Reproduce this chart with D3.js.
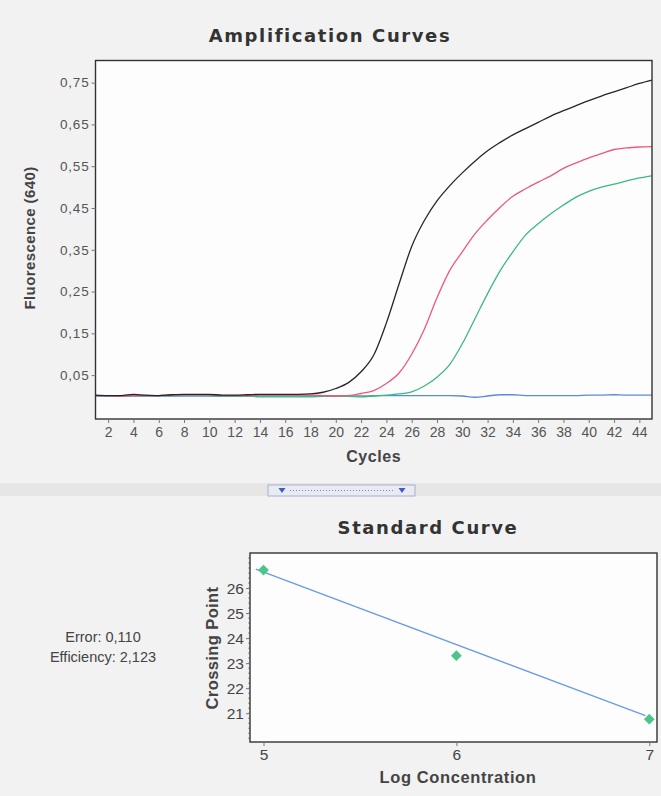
<!DOCTYPE html>
<html><head><meta charset="utf-8">
<script src="https://cdn.jsdelivr.net/npm/d3@7"></script>
<style>
html,body{margin:0;padding:0;background:#f2f2f2;}
svg{display:block;}
</style></head><body>
<svg id="chart" width="661" height="796"></svg>
<script>
// ---------- data ----------
const cycles = [1,2,3,4,5,6,7,8,9,10,11,12,13,14,15,16,17,18,19,20,21,22,23,24,25,26,27,28,29,30,31,32,33,34,35,36,37,38,39,40,41,42,43,44,45];
const blackSeries = [
  0.002,0.001,0.001,0.004,0.002, 0.001,0.003,0.004,0.004,0.004,
  0.002,0.002,0.003,0.004,0.004, 0.004,0.004,0.005,0.009,0.018,
  0.032,0.058,0.098,0.175,0.268, 0.358,0.420,0.467,0.503,0.534,
  0.562,0.587,0.607,0.625,0.640, 0.655,0.670,0.683,0.695,0.707,
  0.718,0.728,0.738,0.748,0.756];
const redSeries = [
  0.001,0.001,0.000,0.001,0.001, 0.001,0.003,0.003,0.003,0.003,
  0.001,0.001,0.001,0.002,0.002, 0.002,0.002,0.002,0.001,0.000,
  0.001,0.006,0.013,0.030,0.055, 0.100,0.160,0.235,0.300,0.345,
  0.388,0.422,0.452,0.478,0.496, 0.512,0.527,0.545,0.558,0.570,
  0.580,0.590,0.594,0.596,0.597];
const greenSeries = [
  0.001,0.001,0.001,0.001,0.001, 0.001,0.001,0.002,0.002,0.001,
  0.000,0.000,0.000,-0.002,-0.002, -0.002,-0.002,-0.002,-0.001,-0.001,
  -0.001,-0.002,0.000,0.002,0.005, 0.010,0.024,0.045,0.075,0.125,
  0.185,0.245,0.300,0.345,0.385, 0.412,0.436,0.457,0.476,0.490,
  0.500,0.507,0.515,0.522,0.527];
const blueSeries = [
  0.000,0.000,0.000,0.000,0.000, 0.000,0.000,0.000,0.000,0.000,
  0.000,0.000,0.000,0.000,0.000, 0.000,0.000,0.000,0.000,0.000,
  0.000,0.000,0.001,0.001,0.001, 0.001,0.001,0.001,0.001,0.000,
  -0.003,0.000,0.003,0.003,0.001, 0.001,0.001,0.001,0.001,0.002,
  0.002,0.003,0.002,0.002,0.002];
const ampYTicks = [0.05,0.15,0.25,0.35,0.45,0.55,0.65,0.75];
const ampXTicks = [2,4,6,8,10,12,14,16,18,20,22,24,26,28,30,32,34,36,38,40,42,44];

const logConc = [5,6,7];
const crossingPoint = [26.72,23.30,20.76];
const fitX = [4.96,6.98];
const fitY = [26.76,20.90];
const stdYTicks = [21,22,23,24,25,26];
const stdXTicks = [5,6,7];
const statLines = ["Error: 0,110","Efficiency: 2,123"];

// ---------- drawing ----------
const svg = d3.select("#chart");
const comma = d => String(d).replace(".", ",");
const tickFont = "'Liberation Sans', Arial, sans-serif";
const titleFont = "'DejaVu Sans', Verdana, sans-serif";

// separator band & widget
svg.append("rect").attr("x",0).attr("y",483).attr("width",661).attr("height",13).attr("fill","#e6e6e6");
const wg = svg.append("g");
wg.append("rect").attr("x",268).attr("y",485).attr("width",147).attr("height",11)
  .attr("fill","#e9ebf3").attr("stroke","#a9afc7");
[282,402].forEach(cx=>{
  wg.append("path").attr("d",`M${cx-3.5},${488} L${cx+3.5},${488} L${cx},${493} Z`).attr("fill","#3c5cc8");
});
wg.append("line").attr("x1",290).attr("x2",395).attr("y1",490.5).attr("y2",490.5)
  .attr("stroke","#7d88b8").attr("stroke-dasharray","1,2");

// ===== Amplification curves =====
const A = {l:95.5, r:652, t:60.5, b:419};
const x = d3.scaleLinear().domain([1,45]).range([A.l, A.r]);
const y = d3.scaleLinear().domain([-0.055,0.803]).range([A.b, A.t]);

svg.append("rect").attr("x",A.l).attr("y",A.t).attr("width",A.r-A.l).attr("height",A.b-A.t).attr("fill","#fdfdfd");

const line = d3.line().x((d,i)=>x(cycles[i])).y(d=>y(d)).curve(d3.curveMonotoneX);
const series = [
  {v:blueSeries, c:"#5b8ad6"},
  {v:greenSeries, c:"#3cb97e"},
  {v:redSeries, c:"#ea5a78"},
  {v:blackSeries, c:"#262626"}
];
svg.append("g").selectAll("path").data(series).join("path")
  .attr("d",d=>line(d.v)).attr("fill","none").attr("stroke",d=>d.c).attr("stroke-width",1.3);

svg.append("rect").attr("x",A.l).attr("y",A.t).attr("width",A.r-A.l).attr("height",A.b-A.t)
  .attr("fill","none").attr("stroke","#333").attr("stroke-width",1.4);

const yAx = svg.append("g").attr("transform",`translate(${A.l},0)`)
  .call(d3.axisLeft(y).tickValues(ampYTicks).tickFormat(d=>comma(d3.format(".2f")(d))).tickSize(4).tickPadding(2));
yAx.select(".domain").remove();
yAx.selectAll("line").attr("stroke","#777");
yAx.selectAll("text").attr("font-family",tickFont).attr("font-size",13.5).attr("fill","#555").attr("letter-spacing",0.8);

const xAx = svg.append("g").attr("transform",`translate(0,${A.b})`)
  .call(d3.axisBottom(x).tickValues(ampXTicks).tickSize(4).tickPadding(4));
xAx.select(".domain").remove();
xAx.selectAll("line").attr("stroke","#777");
xAx.selectAll("text").attr("font-family",tickFont).attr("font-size",14).attr("fill","#555");

svg.append("text").attr("x",330).attr("y",42).attr("text-anchor","middle")
  .attr("font-family",titleFont).attr("font-weight","bold").attr("font-size",18)
  .attr("letter-spacing",1.6).attr("fill","#333").text("Amplification Curves");
svg.append("text").attr("x",(A.l+A.r)/2).attr("y",462).attr("text-anchor","middle")
  .attr("font-family",tickFont).attr("font-weight","bold").attr("font-size",16).attr("letter-spacing",0.6)
  .attr("fill","#444").text("Cycles");
svg.append("text").attr("transform",`translate(35,${238}) rotate(-90)`).attr("text-anchor","middle")
  .attr("font-family",tickFont).attr("font-weight","bold").attr("font-size",15).attr("letter-spacing",0.4)
  .attr("fill","#444").text("Fluorescence (640)");

// ===== Standard curve =====
const S = {l:250, r:657, t:553, b:742};
const sx = d3.scaleLinear().domain([4.93,7.04]).range([S.l,S.r]);
const sy = d3.scaleLinear().domain([19.85,27.4]).range([S.b,S.t]);

svg.append("rect").attr("x",S.l).attr("y",S.t).attr("width",S.r-S.l).attr("height",S.b-S.t).attr("fill","#fdfdfd");

// minor ticks
const minor = d3.range(20,27.4,0.2);
svg.append("g").selectAll("line").data(minor).join("line")
  .attr("x1",S.l-2).attr("x2",S.l).attr("y1",d=>sy(d)).attr("y2",d=>sy(d)).attr("stroke","#999");

svg.append("path").datum(fitX.map((d,i)=>[d,fitY[i]]))
  .attr("d",d3.line().x(d=>sx(d[0])).y(d=>sy(d[1])))
  .attr("fill","none").attr("stroke","#6b9be2").attr("stroke-width",1.3);

svg.append("g").selectAll("path").data(logConc).join("path")
  .attr("d",d3.symbol().type(d3.symbolSquare).size(58))
  .attr("transform",(d,i)=>`translate(${sx(d)},${sy(crossingPoint[i])}) rotate(45)`)
  .attr("fill","#4dc48a");

svg.append("rect").attr("x",S.l).attr("y",S.t).attr("width",S.r-S.l).attr("height",S.b-S.t)
  .attr("fill","none").attr("stroke","#333").attr("stroke-width",1.4);

const syAx = svg.append("g").attr("transform",`translate(${S.l},0)`)
  .call(d3.axisLeft(sy).tickValues(stdYTicks).tickFormat(d3.format("d")).tickSize(4).tickPadding(2));
syAx.select(".domain").remove();
syAx.selectAll("line").attr("stroke","#777");
syAx.selectAll("text").attr("font-family",tickFont).attr("font-size",15.5).attr("fill","#444");

const sxAx = svg.append("g").attr("transform",`translate(0,${S.b})`)
  .call(d3.axisBottom(sx).tickValues(stdXTicks).tickFormat(d3.format("d")).tickSize(4).tickPadding(3));
sxAx.select(".domain").remove();
sxAx.selectAll("line").attr("stroke","#777");
sxAx.selectAll("text").attr("font-family",tickFont).attr("font-size",15.5).attr("fill","#444");

svg.append("text").attr("x",428).attr("y",534).attr("text-anchor","middle")
  .attr("font-family",titleFont).attr("font-weight","bold").attr("font-size",18)
  .attr("letter-spacing",1.6).attr("fill","#333").text("Standard Curve");
svg.append("text").attr("x",458).attr("y",783).attr("text-anchor","middle")
  .attr("font-family",tickFont).attr("font-weight","bold").attr("font-size",16.5).attr("letter-spacing",0.6)
  .attr("fill","#444").text("Log Concentration");
svg.append("text").attr("transform",`translate(218,${648}) rotate(-90)`).attr("text-anchor","middle")
  .attr("font-family",tickFont).attr("font-weight","bold").attr("font-size",16.5).attr("letter-spacing",0.4)
  .attr("fill","#444").text("Crossing Point");

svg.append("g").selectAll("text").data(statLines).join("text")
  .attr("x",103).attr("y",(d,i)=>642+i*20).attr("text-anchor","middle")
  .attr("font-family",tickFont).attr("font-size",14.5).attr("fill","#444").text(d=>d);
</script>
</body></html>
